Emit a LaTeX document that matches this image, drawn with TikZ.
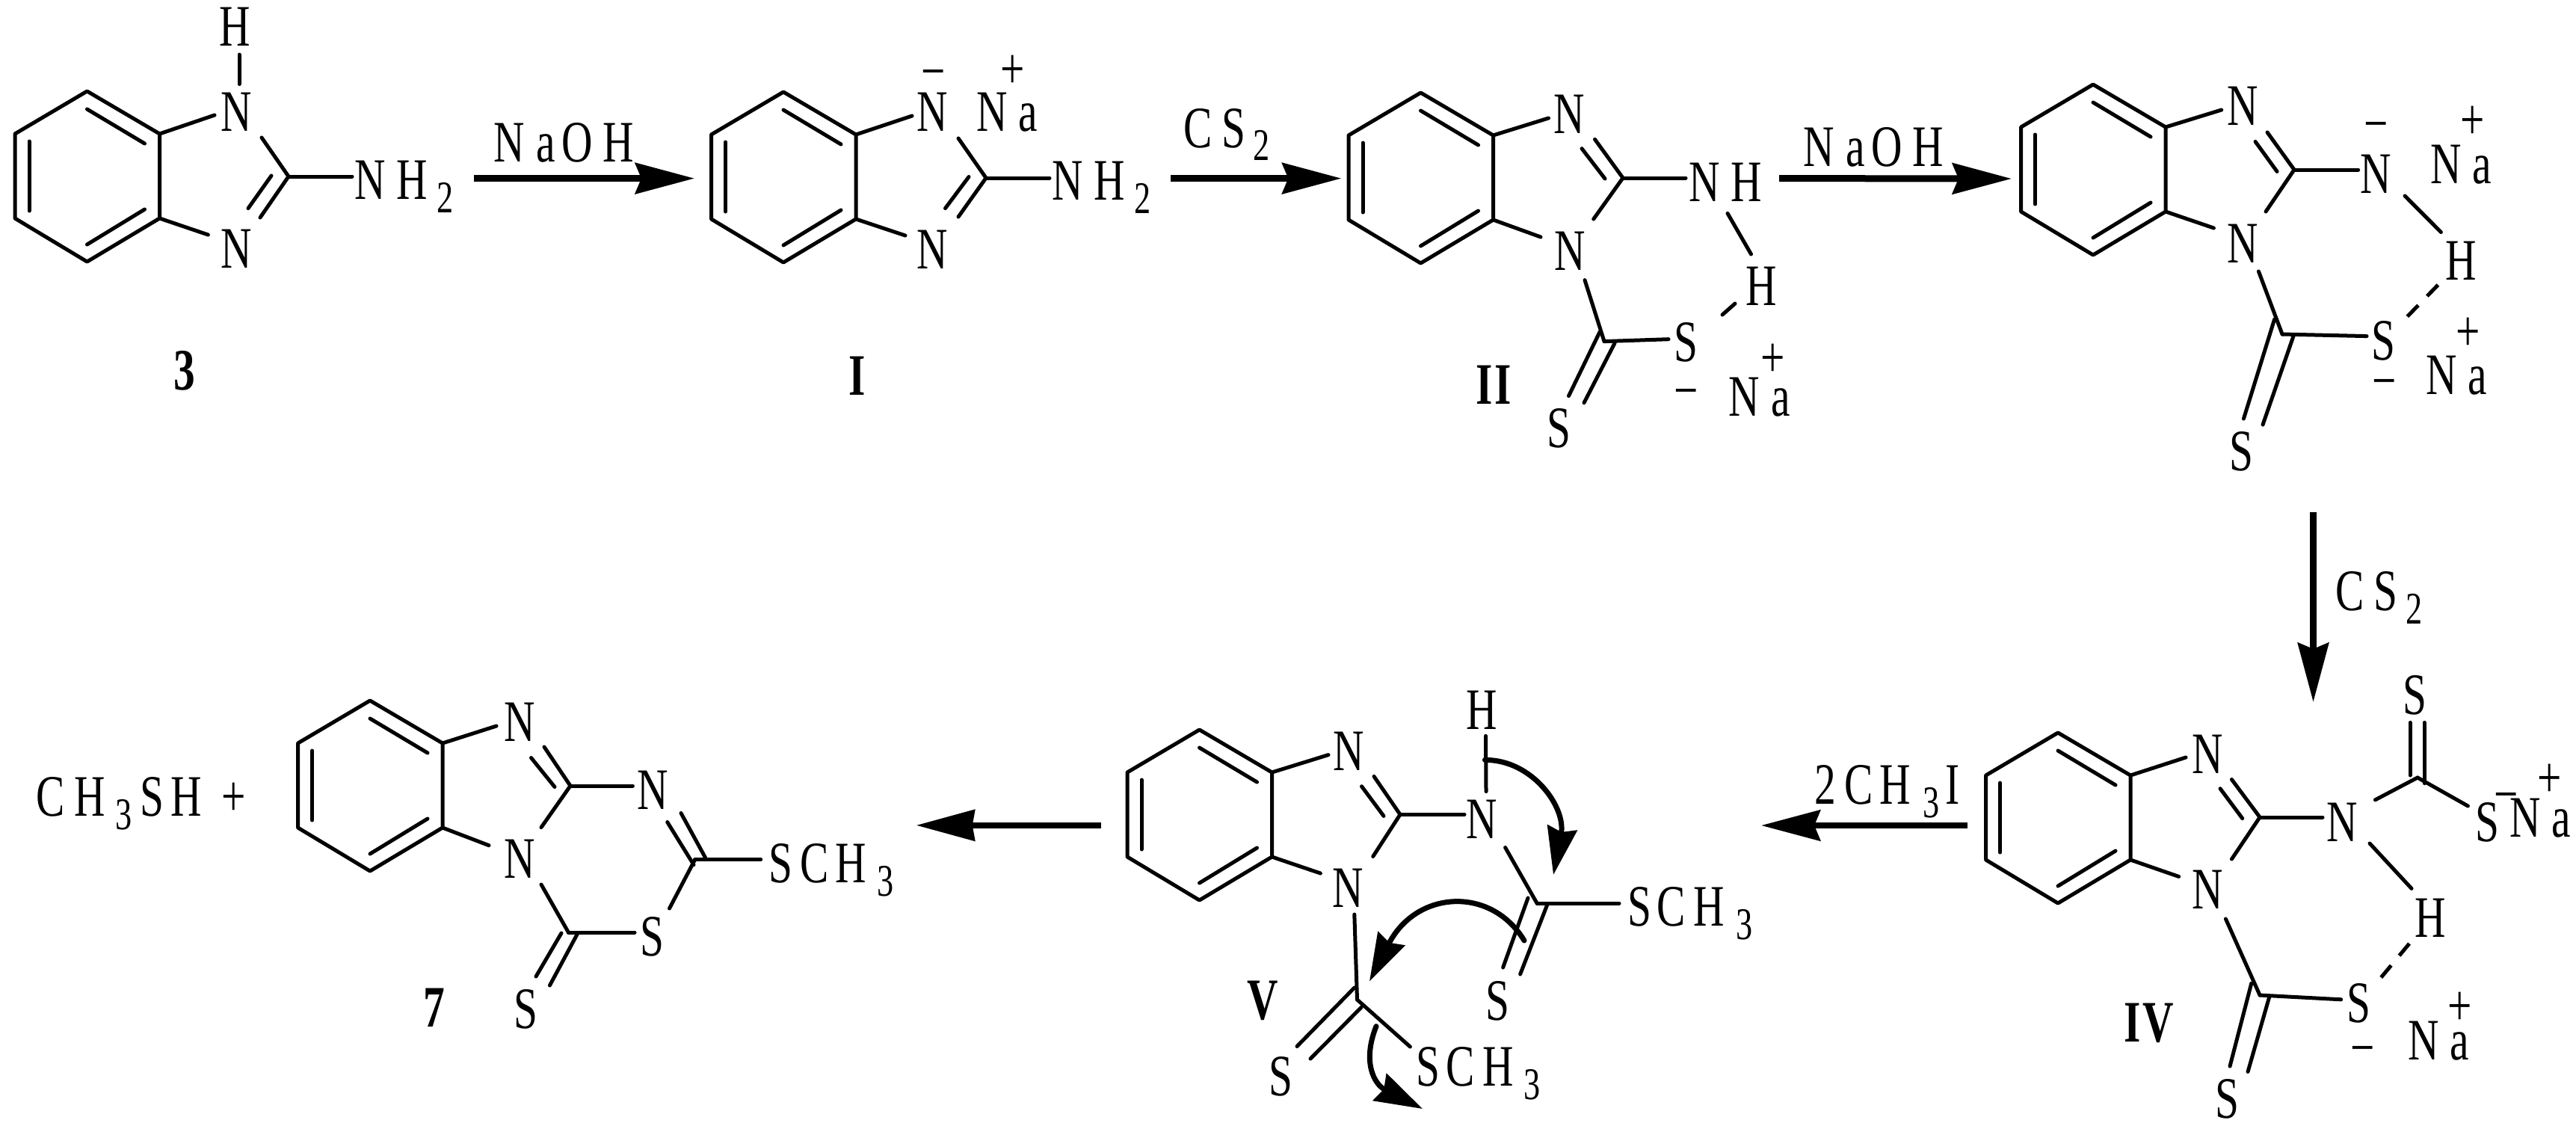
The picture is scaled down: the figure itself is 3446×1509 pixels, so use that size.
\documentclass[tikz,border=0pt]{standalone}
\usepackage{fontspec}
\setmainfont[FakeStretch=0.73]{Liberation Serif}
\usetikzlibrary{arrows.meta}
\newcommand\subd[1]{\raisebox{-9pt}{\fontsize{30.3}{31}\selectfont #1}}
\newcommand\kk[1]{\kern#1pt\relax}
\newcommand\bd[7][]{\draw[bondline,#1] ([shift={(#3,#4)}]#2) -- ([shift={(#6,#7)}]#5);}
\newcommand\benz[3]{%
  \begin{scope}[shift={(#2,#3)}]
    \coordinate (#1t) at (0,0);
    \coordinate (#1ul) at (-96.5,57);
    \coordinate (#1ll) at (-96.5,170);
    \coordinate (#1b) at (0,228);
    \coordinate (#1lr) at (97,170);
    \coordinate (#1ur) at (97,57);
    \draw[bondline] (#1t) -- (#1ul) -- (#1ll) -- (#1b) -- (#1lr) -- (#1ur) -- cycle;
    \draw[bondline] (0,24) -- (77,70);
    \draw[bondline] (-77.5,67) -- (-77.5,160);
    \draw[bondline] (0,205) -- (77,158);
  \end{scope}}
\tikzset{
  bondline/.style={line width=2.5pt,line cap=round,line join=round},
  dashbond/.style={dash pattern=on 10.5pt off 8.5pt,line cap=butt},
  chemtext/.style={font=\fontsize{39.3}{40}\selectfont,inner sep=0pt,outer sep=0pt},
  atom/.style={chemtext,text height=26pt,text depth=0pt},
  lbl/.style={chemtext,anchor=base west},
  cmpd/.style={lbl,font=\fontsize{39.3}{40}\selectfont\bfseries},
  sgn/.style={chemtext,anchor=base,yshift=-10pt},
  rxn/.style={line width=4.5pt,-{Stealth[length=39.5pt,width=20.5pt,inset=4pt]}},
  rxnthin/.style={line width=3.9pt,-{Stealth[length=39.5pt,width=20.5pt,inset=4pt]}},
  curly/.style={line width=3.5pt,line cap=round,-{Stealth[length=32pt,width=20pt,inset=3pt]}},
}
\begin{document}
\begin{tikzpicture}[x=0.5pt,y=-0.5pt]
\useasboundingbox (0,0) rectangle (3446,1509);
% ---------- compound 3
\benz{a}{116.5}{122}
\node[atom] (ah) at (314.6,35.7) {H};
\node[atom] (an1) at (316,150) {N};
\node[atom] (an3) at (316,332) {N};
\coordinate (a2) at (386,236);
\node[lbl] (anh) at (474,266) {N\kk{7.5}H\kk{6.5}\subd{2}};
\node[cmpd] (alab) at (232.5,521) {3};
\bd{ah.center}{5.4}{37.3}{an1.center}{4}{-37.5}
\bd{aur}{0}{0}{an1.center}{-29}{4}
\bd{an1.center}{34}{34}{a2}{0}{0}
\bd{a2}{0}{0}{an3.center}{32}{-41}
\bd{a2}{-23}{-1}{an3.center}{16}{-53.4}
\bd{alr}{0}{0}{an3.center}{-37.6}{-18}
\bd{a2}{0}{0}{anh.base west}{-3}{-30}
% arrow 1
\coordinate (r1s) at (634,238.6);
\coordinate (r1e) at (929,238.6);
\draw[rxn] (r1s) -- (r1e);
\node[lbl] (r1l) at (660,216) {N\kk{8}a\kk{4.5}O\kk{6.5}H};
% ---------- compound I
\benz{b}{1048}{123}
\node[atom] (bn1) at (1247,150) {N};
\node[atom] (bn3) at (1247,333) {N};
\coordinate (b2) at (1319,238);
\node[sgn] (bm) at (1248.5,102) {−};
\node[lbl] (bna) at (1306,176) {N\kk{7.5}a};
\node[sgn] (bp) at (1354.5,98.5) {+};
\node[lbl] (bnh) at (1407,267) {N\kk{7.5}H\kk{6.5}\subd{2}};
\node[cmpd] (blab) at (1135,528) {I};
\bd{bur}{0}{0}{bn1.center}{-27}{5}
\bd{bn1.center}{35}{35}{b2}{0}{0}
\bd{b2}{0}{0}{bn3.center}{35}{-43}
\bd{b2}{-23}{-1.5}{bn3.center}{17.5}{-54.4}
\bd{blr}{0}{0}{bn3.center}{-36}{-18}
\bd{b2}{0}{0}{bnh.base west}{-3}{-29}
% arrow 2
\coordinate (r2s) at (1566,238.6);
\coordinate (r2e) at (1794.4,238.6);
\draw[rxn] (r2s) -- (r2e);
\node[lbl] (r2l) at (1583,197) {C\kk{6.5}S\kk{5}\subd{2}};
% ---------- compound II
\benz{c}{1900.5}{124}
\node[atom] (cn1) at (2099,152) {N};
\node[atom] (cn3) at (2100,335) {N};
\coordinate (c2) at (2171,238);
\coordinate (c5) at (2146,456.6);
\node[lbl] (cnh) at (2259,269) {N\kk{7.5}H};
\node[atom] (ch) at (2356.5,382) {H};
\node[atom] (cs) at (2255,457.7) {S};
\node[atom] (cs2) at (2085.5,572) {S};
\node[sgn] (cm) at (2256,528) {−};
\node[lbl] (cna) at (2312.6,556) {N\kk{7.5}a};
\node[sgn] (cp) at (2372,484.6) {+};
\node[cmpd] (clab) at (1974,540) {I\kk{1.5}I};
\bd{cur}{0}{0}{cn1.center}{-27.5}{6}
\bd{cn1.center}{34.5}{34.4}{c2}{0}{0}
\bd{cn1.center}{17}{46.7}{c2}{-24}{1}
\bd{c2}{0}{0}{cn3.center}{31.7}{-42}
\bd{clr}{0}{0}{cn3.center}{-39}{-18}
\bd{c2}{0}{0}{cnh.base west}{-4}{-31}
\bd{cnh.base west}{52}{16.4}{ch.center}{-14}{-42}
\bd{ch.center}{-35.5}{24}{cs.center}{49}{-36.7}
\bd{cn3.center}{20}{39.6}{c5}{0}{0}
\bd{c5}{0}{0}{cs.center}{-23}{-4}
\bd{c5}{-6}{-12.6}{cs2.center}{13}{-42.5}
\bd{c5}{14}{2.4}{cs2.center}{33.5}{-33.3}
% arrow 3
\coordinate (r3s) at (2380,238.6);
\coordinate (r3e) at (2691,239);
\draw[rxn] (r3s) -- (r3e);
\node[lbl] (r3l) at (2412,222) {N\kk{8}a\kk{4.5}O\kk{6.5}H};
% ---------- compound III
\benz{d}{2800}{113}
\node[atom] (dn1) at (3000,141) {N};
\node[atom] (dn3) at (3000,325) {N};
\coordinate (d2) at (3069,227);
\coordinate (d5) at (3053,447);
\node[atom] (dn) at (3178.6,232) {N};
\node[sgn] (dm1) at (3178.5,171.7) {−};
\node[lbl] (dna1) at (3251,245) {N\kk{7.5}a};
\node[sgn] (dp1) at (3308,166) {+};
\node[atom] (dh) at (3292,348.5) {H};
\node[atom] (ds) at (3188.5,455.6) {S};
\node[sgn] (dm2) at (3189.5,515.6) {−};
\node[lbl] (dna2) at (3245,527) {N\kk{7.5}a};
\node[sgn] (dp2) at (3302,449) {+};
\node[atom] (ds2) at (2998,603) {S};
\bd{dur}{0}{0}{dn1.center}{-28.3}{6}
\bd{dn1.center}{33}{36}{d2}{0}{0}
\bd{dn1.center}{17}{48.4}{d2}{-23}{2.4}
\bd{d2}{0}{0}{dn3.center}{31}{-42}
\bd{dlr}{0}{0}{dn3.center}{-38.6}{-20}
\bd{d2}{0}{0}{dn.center}{-24}{-5}
\bd{dn.center}{38.4}{30}{dh.center}{-26.6}{-38}
\bd[dashbond]{dh.center}{-30.6}{32.5}{ds.center}{31.2}{-31.6}
\bd{dn3.center}{21.4}{38}{d5}{0}{0}
\bd{d5}{0}{0}{ds.center}{-22.5}{-6}
\bd{d5}{-10.4}{-20}{ds2.center}{3.4}{-43}
\bd{d5}{15}{2.5}{ds2.center}{29}{-35}
% arrow 4
\coordinate (r4s) at (3094.5,685);
\coordinate (r4e) at (3094.5,939);
\draw[rxn] (r4s) -- (r4e);
\node[lbl] (r4l) at (3124,816) {C\kk{6.5}S\kk{5.5}\subd{2}};
% ---------- compound IV
\benz{e}{2753}{980}
\node[atom] (en1) at (2953,1008) {N};
\node[atom] (en3) at (2953,1189.6) {N};
\coordinate (e2) at (3023,1093);
\coordinate (e5) at (3023,1331);
\coordinate (e6) at (3234,1040);
\node[atom] (en) at (3133,1099.5) {N};
\node[atom] (es1) at (3230,929) {S};
\node[atom] (es2) at (3327,1099) {S};
\node[sgn] (em1) at (3353,1068.6) {−};
\node[lbl] (ena1) at (3357,1119) {N\kk{7.5}a};
\node[sgn] (ep1) at (3411,1046.5) {+};
\node[atom] (eh) at (3251,1227) {H};
\node[atom] (es3) at (3155.6,1341.5) {S};
\node[sgn] (em2) at (3160.5,1407) {−};
\node[lbl] (ena2) at (3221.4,1417.5) {N\kk{7.5}a};
\node[sgn] (ep2) at (3290.6,1351) {+};
\node[atom] (es4) at (2979.6,1469) {S};
\node[cmpd] (elab) at (2841.4,1393) {I\kk{1.5}V};
\bd{eur}{0}{0}{en1.center}{-29}{5}
\bd{en1.center}{32.4}{34.5}{e2}{0}{0}
\bd{en1.center}{17}{46.7}{e2}{-23.3}{1.6}
\bd{e2}{0}{0}{en3.center}{32.4}{-40.6}
\bd{elr}{0}{0}{en3.center}{-38.4}{-17.2}
\bd{e2}{0}{0}{en.center}{-26}{-6.5}
\bd{en.center}{44.4}{-29.7}{e6}{0}{0}
\bd{e6}{0}{0}{es2.center}{-25.6}{-21}
\bd{es1.center}{-6}{37.4}{e6}{-10}{-3}
\bd{es1.center}{13}{37.4}{e6}{9}{7.6}
\bd{en.center}{37}{28.5}{eh.center}{-25}{-38.6}
\bd[dashbond]{eh.center}{-28}{35}{es3.center}{27.4}{-31.5}
\bd{en3.center}{24.4}{39.4}{e5}{0}{0}
\bd{e5}{0}{0}{es3.center}{-23.9}{-4.7}
\bd{e5}{-11.3}{-15.7}{es4.center}{3.4}{-43}
\bd{e5}{12.7}{2.4}{es4.center}{27.4}{-35.6}
% arrow 5
\coordinate (r5s) at (2632,1104);
\coordinate (r5e) at (2356,1104);
\draw[rxnthin] (r5s) -- (r5e);
\node[lbl] (r5l) at (2427,1075) {2\kk{5.7}C\kk{4.5}H\kk{8.5}\subd{3}\kk{4}I};
% ---------- compound V
\benz{f}{1604.5}{976}
\node[atom] (fn1) at (1804,1004) {N};
\node[atom] (fn3) at (1803,1187) {N};
\coordinate (f2) at (1873,1089.4);
\coordinate (f5) at (1815.5,1337);
\coordinate (f6) at (2056,1208);
\node[atom] (fn) at (1982,1095) {N};
\node[atom] (fh) at (1982.5,949) {H};
\node[lbl] (fsm1) at (2177,1238) {S\kk{4}C\kk{5}H\kk{8}\subd{3}};
\node[atom] (fs1) at (2003,1338.5) {S};
\node[lbl] (fsm2) at (1894,1452.4) {S\kk{4.5}C\kk{5}H\kk{7}\subd{3}};
\node[atom] (fs2) at (1713,1439.5) {S};
\node[cmpd] (flab) at (1668,1363) {V};
\bd{fur}{0}{0}{fn1.center}{-27}{5.6}
\bd{fn1.center}{34}{34.4}{f2}{0}{0}
\bd{fn1.center}{17.5}{47.7}{f2}{-22}{2}
\bd{f2}{0}{0}{fn3.center}{33.7}{-41.5}
\bd{flr}{0}{0}{fn3.center}{-36.6}{-19}
\bd{f2}{0}{0}{fn.center}{-23}{-5.6}
\bd{fh.center}{5}{35.3}{fn.center}{6}{-36.5}
\bd{fn.center}{31.6}{38.5}{f6}{0}{0}
\bd{f6}{0}{0}{fsm1.base west}{-11}{-30}
\bd{f6}{-12}{-7}{fs1.center}{7.6}{-44.5}
\bd{f6}{13.4}{3}{fs1.center}{30.6}{-35.5}
\bd{fn3.center}{8.8}{36}{f5}{0}{0}
\bd{f5}{-3.7}{-16}{fs2.center}{22}{-40}
\bd{f5}{5.5}{10.3}{fs2.center}{40}{-23.5}
\bd{f5}{0}{0}{fsm2.base west}{-7.6}{-52.4}
% curved electron-pair arrows
\coordinate (ca1) at (1986.4,1016.4);
\coordinate (ca2) at (2078,1170);
\draw[curly] (ca1) .. controls (2050,1016) and (2095,1080) .. (ca2);
\coordinate (cb1) at (2039,1258);
\coordinate (cb2) at (1832,1312.4);
\draw[curly] (cb1) .. controls (1995,1185) and (1895,1190) .. (cb2);
\coordinate (cc1) at (1841,1372.6);
\coordinate (cc2) at (1903,1483);
\draw[curly] (cc1) .. controls (1822,1420) and (1838,1450) .. (cc2);
% arrow 6
\coordinate (r6s) at (1473,1103.8);
\coordinate (r6e) at (1225.7,1103.8);
\draw[line width=3.9pt,-{Stealth[length=39pt,width=20.5pt,inset=1.5pt]}] (r6s) -- (r6e);
% ---------- compound 7
\benz{g}{495}{937}
\node[lbl] (gch) at (48,1091.4) {C\kk{6.5}H\kk{7}\subd{3}\kk{5.5}S\kk{4.5}H\kk{13}+};
\node[atom] (gn1) at (695,965.5) {N};
\node[atom] (gn3) at (695,1148) {N};
\coordinate (g2) at (763,1051);
\coordinate (g5) at (929.7,1149.6);
\coordinate (g6) at (760.4,1247);
\node[atom] (gn) at (873,1056.5) {N};
\node[atom] (gs) at (872,1252) {S};
\node[atom] (gs2) at (703,1349.6) {S};
\node[lbl] (gsm) at (1028.7,1180) {S\kk{5}C\kk{4.5}H\kk{7}\subd{3}};
\node[cmpd] (glab) at (566,1373) {7};
\bd{gur}{0}{0}{gn1.center}{-31}{5.5}
\bd{gn1.center}{33}{33.5}{g2}{0}{0}
\bd{gn1.center}{15.5}{48}{g2}{-21}{1.5}
\bd{g2}{0}{0}{gn3.center}{29}{-41.4}
\bd{glr}{0}{0}{gn3.center}{-41}{-17.3}
\bd{g2}{0}{0}{gn.center}{-26.6}{-5.5}
\bd{gn.center}{38}{31}{g5}{13.8}{-2.6}
\bd{gn.center}{19.7}{43}{g5}{-1.7}{7}
\bd{g5}{0}{0}{gsm.base west}{-11}{-30.4}
\bd{g5}{0}{0}{gs.center}{23.5}{-37}
\bd{g6}{0}{0}{gs.center}{-23}{-5}
\bd{gn3.center}{29}{35}{g6}{0}{0}
\bd{g6}{-9.4}{1}{gs2.center}{14}{-43.6}
\bd{g6}{12}{2}{gs2.center}{32.4}{-31.6}
\end{tikzpicture}
\end{document}
